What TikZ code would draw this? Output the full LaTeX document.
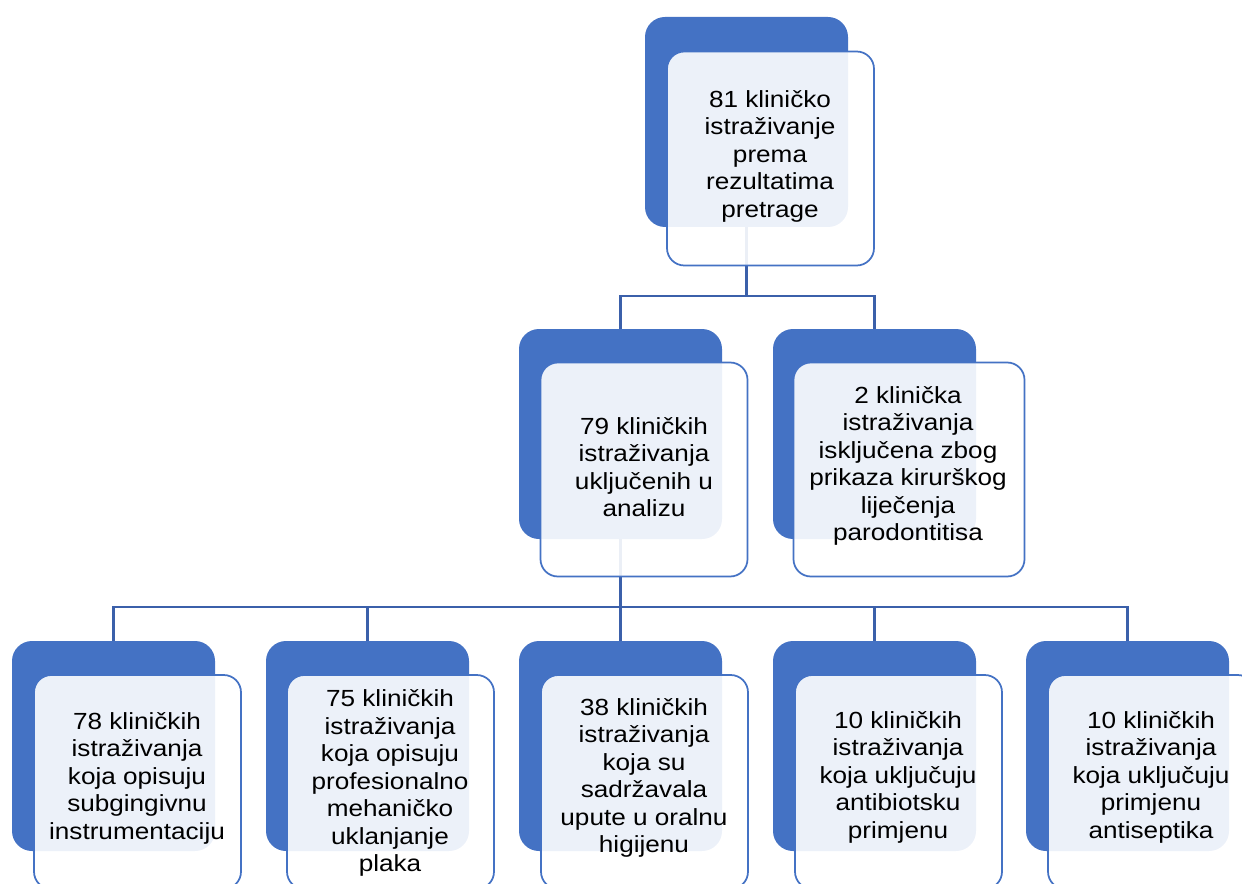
\documentclass[tikz,border=0pt]{standalone}
\usepackage{fontspec}
\setmainfont{Liberation Sans}[FakeStretch=1.12]
\usetikzlibrary{backgrounds}
\definecolor{accent}{RGB}{68,114,196}
\definecolor{connc}{RGB}{59,96,170}
\begin{document}
\begin{tikzpicture}[x=0.75pt,y=-0.75pt,
  backbox/.style={fill=accent,draw=none,rounded corners=15pt,inner sep=0pt,
    minimum width={203*0.75pt},minimum height={210*0.75pt}},
  frontbox/.style={fill=white,fill opacity=0.9,text opacity=1,draw=accent,line width=1.3pt,
    rounded corners=13pt,inner sep=0pt,minimum width={207*0.75pt},minimum height={214*0.75pt}},
  txt/.style={align=center,font=\fontsize{17.5pt}{20.6pt}\selectfont,inner sep=0pt},
  conn/.style={draw=connc,line width=1.6pt}]
\useasboundingbox (0,0) rectangle (1242,884);
\clip (0,0) rectangle (1242,884);
% back boxes
\node[backbox] (b0) at (746.5,122) {};
\node[backbox] (b1) at (620.5,434) {};
\node[backbox] (b2) at (874.5,434) {};
\node[backbox] (c1) at (113.5,746) {};
\node[backbox] (c2) at (367.5,746) {};
\node[backbox] (c3) at (620.5,746) {};
\node[backbox] (c4) at (874.5,746) {};
\node[backbox] (c5) at (1127.5,746) {};
% junction levels
\coordinate (j0) at (0,296);
\coordinate (j1) at (0,607);
% connectors (behind the boxes)
\begin{pgfonlayer}{background}
\draw[conn] (b0.south) -- (b0.south |- j0);
\draw[conn] (b1.north) -- (b1.north |- j0) -| (b2.north);
\draw[conn] (b1.south) -- (b1.south |- j1);
\draw[conn] (c1.north) -- (c1.north |- j1) -| (c5.north);
\draw[conn] (c2.north) -- (c2.north |- j1);
\draw[conn] (c3.north) -- (c3.north |- j1);
\draw[conn] (c4.north) -- (c4.north |- j1);
\end{pgfonlayer}
% front boxes
\node[frontbox] (f0) at (770.5,158.5) {};
\node[frontbox] (f1) at (644,469.5) {};
\node[frontbox,minimum width={231*0.75pt}] (f2) at (909,469.5) {};
\node[frontbox] (g1) at (137.5,782) {};
\node[frontbox] (g2) at (390.5,782) {};
\node[frontbox] (g3) at (644.5,782) {};
\node[frontbox] (g4) at (898.5,782) {};
\node[frontbox] (g5) at (1151.5,782) {};
% texts
\node[txt] (t0) at (770,156) {81 kliničko\\istraživanje\\prema\\rezultatima\\pretrage};
\node[txt] (t1) at (644,467) {79 kliničkih\\istraživanja\\uključenih u\\analizu};
\node[txt] (t2) at (908,466) {2 klinička\\istraživanja\\isključena zbog\\prikaza kirurškog\\liječenja\\parodontitisa};
\node[txt] (u1) at (137,778) {78 kliničkih\\istraživanja\\koja opisuju\\subgingivnu\\instrumentaciju};
\node[txt] (u2) at (390,783) {75 kliničkih\\istraživanja\\koja opisuju\\profesionalno\\mehaničko\\uklanjanje\\plaka};
\node[txt] (u3) at (644,778) {38 kliničkih\\istraživanja\\koja su\\sadržavala\\upute u oralnu\\higijenu};
\node[txt] (u4) at (898,777) {10 kliničkih\\istraživanja\\koja uključuju\\antibiotsku\\primjenu};
\node[txt] (u5) at (1151,777) {10 kliničkih\\istraživanja\\koja uključuju\\primjenu\\antiseptika};
\end{tikzpicture}
\end{document}
